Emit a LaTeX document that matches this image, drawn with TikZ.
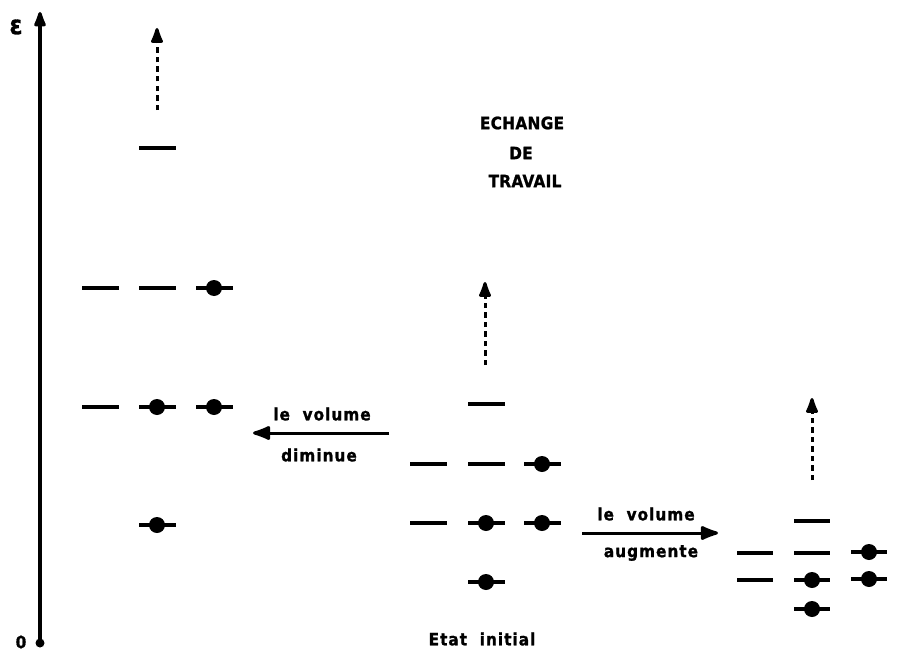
\documentclass[tikz,border=0pt]{standalone}
\usepackage{fontspec}
\setmainfont{DejaVu Sans Condensed}
\newfontfamily\labfont[FakeBold=1.2,LetterSpace=6]{DejaVu Sans Condensed Bold}
\newfontfamily\capfont[FakeBold=1.2,LetterSpace=2]{DejaVu Sans Condensed Bold}
\usetikzlibrary{arrows.meta}
\tikzset{
  lvl/.style={fill=black,inner sep=0pt,minimum width=37pt,minimum height=3.3pt},
  lvlr/.style={lvl,minimum width=36pt},
  elec/.style={circle,fill=black,inner sep=0pt,minimum size=16pt},
  lab/.style={font=\labfont\fontsize{17}{20}\selectfont,inner sep=0pt},
  caplab/.style={font=\capfont\fontsize{17}{20}\selectfont,inner sep=0pt},
  tipped/.style={line width=3pt,-{Latex[length=22pt,width=16pt,round]}},
  dotarrow/.style={line width=3pt,dash pattern=on 5.5pt off 4pt,-{Latex[length=20pt,width=14pt,round]}}
}
\begin{document}
\begin{tikzpicture}[x=1pt,y=-1pt]
\useasboundingbox (0,0) rectangle (897,661);
% axis
\node[circle,fill=black,inner sep=0pt,minimum size=9pt] (orig) at (40,643) {};
\coordinate (top) at (40,12);
\draw[tipped,line width=3.3pt,-{Latex[length=20pt,width=14pt,round]}] (orig.center) -- (top);
\node[caplab,font=\capfont\fontsize{26}{28}\selectfont] (eps) at (16,27) {ε};
\node[caplab] (zero) at (21,642) {0};
% left group (volume decreased)
\node[lvl] (A2t) at (157,148) {};
\node[lvl] (A1b) at (100,288) {};
\node[lvl] (A2b) at (157,288) {};
\node[lvl] (A3b) at (214,288) {};
\node[lvl] (A1c) at (100,407) {};
\node[lvl] (A2c) at (157,407) {};
\node[lvl] (A3c) at (214,407) {};
\node[lvl] (A2d) at (157,525) {};
\node[elec] (eA3b) at (A3b) {};
\node[elec] (eA2c) at (A2c) {};
\node[elec] (eA3c) at (A3c) {};
\node[elec] (eA2d) at (A2d) {};
\coordinate (wA0) at (157,110);
\coordinate (wA1) at (157,28);
\draw[dotarrow] (wA0) -- (wA1);
% middle group (initial state)
\node[lvl] (B2t) at (486,404) {};
\node[lvl] (B1b) at (428,464) {};
\node[lvl] (B2b) at (486,464) {};
\node[lvl] (B3b) at (542,464) {};
\node[lvl] (B1c) at (428,523) {};
\node[lvl] (B2c) at (486,523) {};
\node[lvl] (B3c) at (542,523) {};
\node[lvl] (B2d) at (486,582) {};
\node[elec] (eB3b) at (B3b) {};
\node[elec] (eB2c) at (B2c) {};
\node[elec] (eB3c) at (B3c) {};
\node[elec] (eB2d) at (B2d) {};
\coordinate (wB0) at (485,365);
\coordinate (wB1) at (485,282);
\draw[dotarrow] (wB0) -- (wB1);
\node[lab] (init) at (482,639) {Etat\ \ initial};
\node[caplab] (ech1) at (522,123) {ECHANGE};
\node[caplab] (ech2) at (521,153) {DE};
\node[caplab] (ech3) at (525,181) {TRAVAIL};
% right group (volume increased)
\node[lvlr] (C2t) at (812,521) {};
\node[lvlr] (C1b) at (755,553) {};
\node[lvlr] (C2b) at (812,553) {};
\node[lvlr] (C3b) at (869,552) {};
\node[lvlr] (C1c) at (755,580) {};
\node[lvlr] (C2c) at (812,580) {};
\node[lvlr] (C3c) at (869,579) {};
\node[lvlr] (C2d) at (812,609) {};
\node[elec] (eC3b) at (C3b) {};
\node[elec] (eC2c) at (C2c) {};
\node[elec] (eC3c) at (C3c) {};
\node[elec] (eC2d) at (C2d) {};
\coordinate (wC0) at (812,480);
\coordinate (wC1) at (812,398);
\draw[dotarrow] (wC0) -- (wC1);
% transformation arrows
\coordinate (dim0) at (389,433);
\coordinate (dim1) at (253,433);
\draw[tipped] (dim0) -- (dim1);
\node[lab] (dimt) at (322,414) {le\ \ volume};
\node[lab] (dimb) at (319,455) {diminue};
\coordinate (aug0) at (582,533);
\coordinate (aug1) at (718,533);
\draw[tipped] (aug0) -- (aug1);
\node[lab] (augt) at (646,514) {le\ \ volume};
\node[lab] (augb) at (651,553) {augmente};
\end{tikzpicture}
\end{document}
